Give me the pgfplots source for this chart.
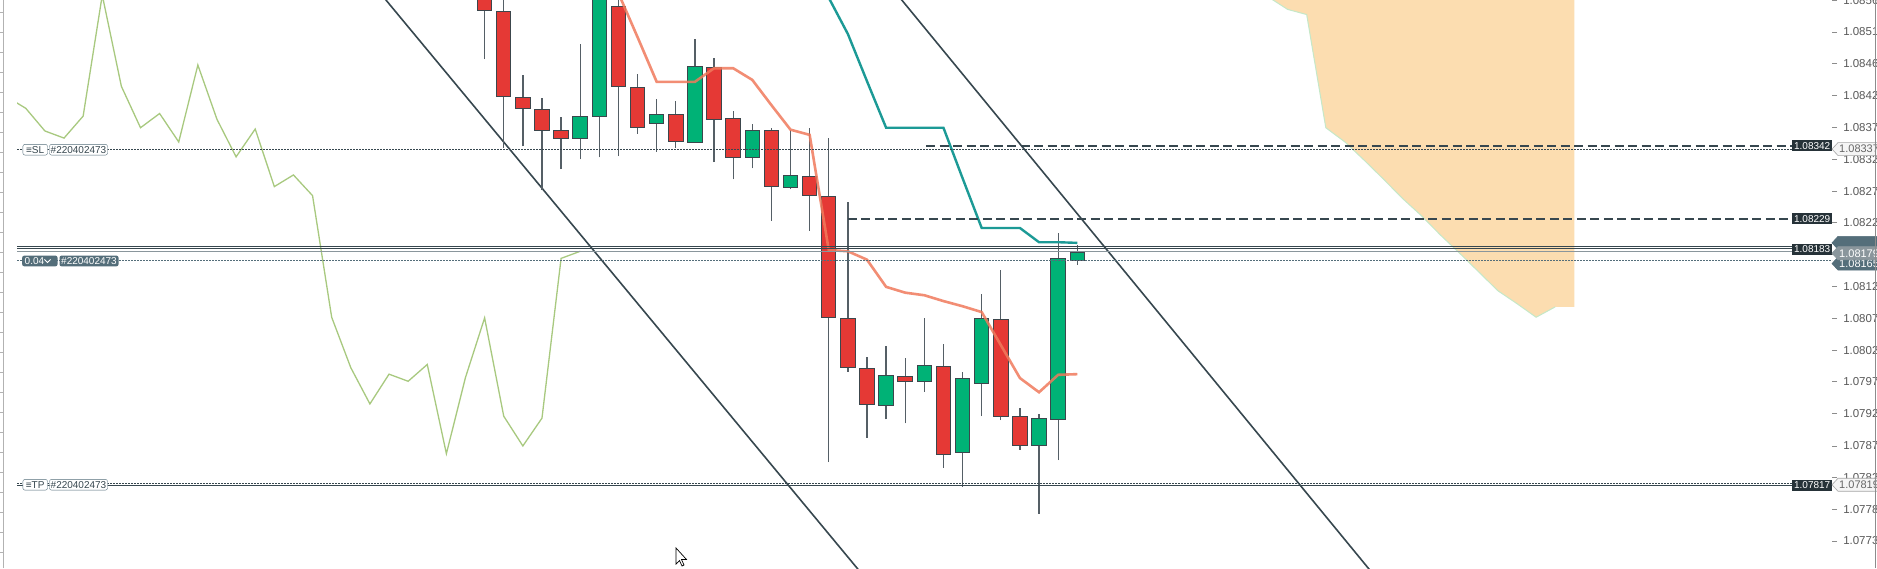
\documentclass[border=0pt]{standalone}
\usepackage{pgfplots}
\pgfplotsset{compat=1.18}
\usepackage{pgfplotstable}
\usepackage{fontspec}
\setmainfont{Liberation Sans}
\usetikzlibrary{calc}

\definecolor{cred}{RGB}{229,57,53}
\definecolor{cgreen}{RGB}{0,178,118}
\definecolor{cborder}{RGB}{60,70,76}
\definecolor{cwick}{RGB}{85,95,102}
\definecolor{ctenkan}{RGB}{240,122,92}
\definecolor{ckijun}{RGB}{28,154,150}
\definecolor{cchikou}{RGB}{168,201,127}
\definecolor{ccloud}{RGB}{252,221,176}
\definecolor{ccloudedge}{RGB}{197,232,200}
\definecolor{cslate}{RGB}{55,71,79}
\definecolor{cslate2}{RGB}{84,110,122}
\definecolor{cdark}{RGB}{38,50,56}
\definecolor{cgrayl}{RGB}{138,150,156}

% candle index, open, high, low, close
\pgfplotstableread{
i o h l c
0 1.08591 1.08614 1.08476 1.08551
1 1.08551 1.08583 1.08339 1.08418
2 1.08418 1.08452 1.08341 1.08400
3 1.08400 1.08416 1.08274 1.08365
4 1.08368 1.08387 1.08306 1.08354
5 1.08352 1.08500 1.08321 1.08388
6 1.08387 1.08598 1.08324 1.08575
7 1.08560 1.08580 1.08326 1.08434
8 1.08434 1.08453 1.08361 1.08370
9 1.08376 1.08414 1.08333 1.08392
10 1.08391 1.08411 1.08339 1.08348
11 1.08348 1.08507 1.08347 1.08467
12 1.08465 1.08478 1.08317 1.08383
13 1.08386 1.08396 1.08290 1.08325
14 1.08325 1.08376 1.08307 1.08368
15 1.08367 1.08370 1.08226 1.08279
16 1.08278 1.08367 1.08275 1.08297
17 1.08296 1.08369 1.08211 1.08265
18 1.08265 1.08354 1.07853 1.08077
19 1.08077 1.08255 1.07993 1.07999
20 1.07999 1.08016 1.07891 1.07943
21 1.07941 1.08033 1.07919 1.07989
22 1.07987 1.08014 1.07913 1.07978
23 1.07977 1.08076 1.07962 1.08004
24 1.08003 1.08035 1.07844 1.07866
25 1.07867 1.07992 1.07815 1.07984
26 1.07974 1.08113 1.07924 1.08076
27 1.08076 1.08150 1.07918 1.07924
28 1.07924 1.07937 1.07872 1.07878
29 1.07878 1.07927 1.07773 1.07921
30 1.07918 1.08208 1.07856 1.08168
31 1.08166 1.08189 1.08158 1.08179
}\candles

\newcommand{\plabel}[5]{%
  \path (#1 -| xA) coordinate (tmp);
  \filldraw[fill=#2, draw=#3, line width=0.6pt] (tmp) -- ++(6,6.5) -- ++(41,0) -- ++(0,-13) -- ++(-41,0) -- cycle;
  \node[anchor=west, text=#4, inner sep=0pt, font=\fontsize{11}{12}\selectfont] at ($(tmp)+(7,0)$) {#5};
}
\newcommand{\dlabel}[2]{%
  \node[anchor=west, fill=cdark, text=white, minimum width=40pt, minimum height=11pt, inner sep=0pt, font=\fontsize{10}{12}\selectfont] at (#1 -| xB) {#2};
}

\begin{document}
\begin{tikzpicture}[x=1pt,y=1pt]
\path[use as bounding box, clip] (0,0) rectangle (1877,568);
\fill[white] (0,0) rectangle (1877,568);
\coordinate (xA) at (1832,0);
\coordinate (xB) at (1792,0);
\begin{axis}[
  at={(17pt,0pt)}, anchor=south west,
  scale only axis, width=1815pt, height=568pt,
  xmin=-24.46, xmax=70.48,
  ymin=1.076893, ymax=1.085675,
  axis x line=none,
  axis y line*=right,
  y axis line style={draw=none},
  ytick={1.08567,1.08518,1.08469,1.08420,1.08370,1.08321,1.08272,1.08223,1.08174,1.08124,1.08075,1.08026,1.07977,1.07928,1.07878,1.07829,1.07780,1.07731},
  yticklabels={1.08567,1.08518,1.08469,1.08420,1.08370,1.08321,1.08272,1.08223,{},1.08124,1.08075,1.08026,1.07977,1.07928,1.07878,1.07829,1.07780,1.07731},
  tick align=outside, major tick length=5pt,
  ytick style={draw=black!45, line width=0.9pt},
  yticklabel style={font=\fontsize{11.5}{13}\selectfont, text=black!65, anchor=west, inner sep=0pt, xshift=6pt},
  clip=true,
  scaled y ticks=false,
]
% Kumo cloud
\addplot[fill=ccloud, draw=none, forget plot] coordinates {
 (41,1.08572) (42,1.08553) (43,1.08545) (44,1.08370) (45,1.08348) (46,1.08320)
 (47,1.08291) (48,1.08261) (49,1.08234) (50,1.08204) (51,1.08176) (52,1.08147)
 (53,1.08118) (54,1.08098) (55,1.08077) (56,1.08093) (57,1.08093) (57,1.0870) (41,1.0870)} -- cycle;
\addplot[ccloudedge, line width=1pt, mark=none] coordinates {
 (41,1.08572) (42,1.08553) (43,1.08545) (44,1.08370) (45,1.08348) (46,1.08320)
 (47,1.08291) (48,1.08261) (49,1.08234) (50,1.08204) (51,1.08176) (52,1.08147)
 (53,1.08118) (54,1.08098) (55,1.08077) (56,1.08093)};
% channel lines
\addplot[cslate, line width=1.6pt, mark=none] coordinates {(-7,1.08633) (21,1.07635)};
\addplot[cslate, line width=1.6pt, mark=none] coordinates {(20,1.08633) (48,1.07625)};
% Chikou span (close shifted back 26)
\addplot[cchikou, line width=1.3pt, mark=none] table[x expr=\thisrow{i}-26, y=c] {\candles};
% wicks
\addplot[draw=none, mark=none, error bars/.cd, y dir=plus, y explicit, error mark=none,
  error bar style={draw=cwick, line width=1.3pt}]
  table[x=i, y=l, y error expr=\thisrow{h}-\thisrow{l}] {\candles};
% body outline
\addplot[draw=none, mark=none, error bars/.cd, y dir=both, y explicit, error mark=none,
  error bar style={draw=cborder, line width=15.5pt}]
  table[x=i, y expr=(\thisrow{o}+\thisrow{c})/2, y error expr=abs(\thisrow{o}-\thisrow{c})/2] {\candles};
% red bodies
\addplot[draw=none, mark=none, restrict expr to domain={\thisrow{c}-\thisrow{o}}{-1:0},
  error bars/.cd, y dir=both, y explicit, error mark=none,
  error bar style={draw=cred, line width=13.5pt}]
  table[x=i, y expr=(\thisrow{o}+\thisrow{c})/2, y error expr=abs(\thisrow{o}-\thisrow{c})/2-0.0000155] {\candles};
% green bodies
\addplot[draw=none, mark=none, restrict expr to domain={\thisrow{c}-\thisrow{o}}{0:1},
  error bars/.cd, y dir=both, y explicit, error mark=none,
  error bar style={draw=cgreen, line width=13.5pt}]
  table[x=i, y expr=(\thisrow{o}+\thisrow{c})/2, y error expr=abs(\thisrow{o}-\thisrow{c})/2-0.0000155] {\candles};
% Tenkan-sen
\addplot[ctenkan, line width=2.6pt, opacity=0.85, mark=none] coordinates {
 (6,1.08660) (7,1.08578) (8,1.08510) (9,1.08441) (10,1.08441) (11,1.08441) (12,1.08462)
 (13,1.08462) (14,1.08444) (15,1.08405) (16,1.08367) (17,1.08359) (18,1.08181) (19,1.08179)
 (20,1.08166) (21,1.08124) (22,1.08115) (23,1.08111) (24,1.08102) (25,1.08094) (26,1.08085)
 (27,1.08034) (28,1.07983) (29,1.07961) (30,1.07988) (31,1.07989)};
% Kijun-sen
\addplot[ckijun, line width=2.4pt, mark=none] coordinates {
 (17,1.08660) (18,1.08571) (19,1.08515) (20,1.08442) (21,1.08370) (22,1.08370) (23,1.08370)
 (24,1.08370) (25,1.08292) (26,1.08215) (27,1.08215) (28,1.08215) (29,1.08193) (30,1.08193) (31,1.08192)};
% order lines
\addplot[cslate, line width=0.8pt, dash pattern=on 1.5pt off 1.5pt, mark=none] coordinates {(-24.46,1.08337) (70.48,1.08337)};
\addplot[cslate, line width=2pt, dash pattern=on 9pt off 4.5pt, mark=none] coordinates {(23.09,1.08342) (68.39,1.08342)};
\addplot[cslate, line width=2pt, dash pattern=on 9pt off 4.5pt, mark=none] coordinates {(19.0,1.08229) (68.39,1.08229)};
\addplot[cslate, line width=1pt, mark=none] coordinates {(-24.46,1.08187) (70.48,1.08187)};
\addplot[cslate, line width=1pt, mark=none] coordinates {(-24.46,1.08183) (70.48,1.08183)};
\addplot[cgrayl, line width=0.9pt, mark=none] coordinates {(-24.46,1.08178) (70.48,1.08178)};
\addplot[cslate2, line width=0.8pt, dash pattern=on 1.5pt off 1.5pt, mark=none] coordinates {(-24.46,1.08165) (70.48,1.08165)};
\addplot[cslate, line width=1.6pt, mark=none] coordinates {(-24.46,1.07817) (68.39,1.07817)};
\addplot[cslate, line width=0.8pt, dash pattern=on 1.5pt off 1.5pt, mark=none] coordinates {(-24.46,1.07820) (70.48,1.07820)};
% anchor coordinates for labels
\coordinate (p342) at (axis cs:0,1.08342);
\coordinate (p337) at (axis cs:0,1.08337);
\coordinate (p229) at (axis cs:0,1.08229);
\coordinate (p184) at (axis cs:0,1.08182);
\coordinate (p179) at (axis cs:0,1.08176);
\coordinate (p165) at (axis cs:0,1.08160);
\coordinate (p190) at (axis cs:0,1.08192);
\coordinate (p817) at (axis cs:0,1.07817);
\coordinate (p819) at (axis cs:0,1.07818);
\coordinate (pSL) at (axis cs:0,1.08336);
\coordinate (pQ) at (axis cs:0,1.08164);
\end{axis}

% left strip
\draw[black!30, line width=1pt] (3,0) -- (3,568);
\foreach \yy in {16,36,...,556} { \draw[black!30, line width=0.8pt] (0,\yy) -- (3,\yy); }

% left order labels
\node[anchor=west, draw=cslate2, fill=white, rounded corners=2pt, minimum width=24.6pt, minimum height=10.7pt, inner sep=0pt, text=cslate, font=\fontsize{10}{12}\selectfont] at (pSL -| {22.7,0}) {≡SL};
\node[anchor=west, draw=cslate2, fill=white, rounded corners=2pt, minimum width=58pt, minimum height=10.7pt, inner sep=0pt, text=cslate, font=\fontsize{10}{12}\selectfont] at (pSL -| {49.3,0}) {\#220402473};
\node[anchor=west, fill=cslate2, rounded corners=2pt, minimum width=35.3pt, minimum height=10.7pt, inner sep=0pt, text=white, font=\fontsize{10}{12}\selectfont] (q1) at (pQ -| {22,0}) {\hspace*{13pt}};
\node[anchor=west, text=white, inner sep=0pt, font=\fontsize{10}{12}\selectfont] at (pQ -| {24.5,0}) {0.04};
\draw[white, line width=0.8pt] ($(pQ -| {44.5,0})+(0,1.5)$) -- ++(3,-3) -- ++(3,3);
\node[anchor=west, fill=cslate2, rounded corners=2pt, minimum width=59pt, minimum height=10.7pt, inner sep=0pt, text=white, font=\fontsize{10}{12}\selectfont] at (pQ -| {59.3,0}) {\#220402473};
\node[anchor=west, draw=cslate2, fill=white, rounded corners=2pt, minimum width=24.6pt, minimum height=10.7pt, inner sep=0pt, text=cslate, font=\fontsize{10}{12}\selectfont] at (p819 -| {22.7,0}) {≡TP};
\node[anchor=west, draw=cslate2, fill=white, rounded corners=2pt, minimum width=58pt, minimum height=10.7pt, inner sep=0pt, text=cslate, font=\fontsize{10}{12}\selectfont] at (p819 -| {49.3,0}) {\#220402473};

% right price labels
\dlabel{p342}{1.08342}
\dlabel{p229}{1.08229}
\dlabel{p184}{1.08183}
\dlabel{p817}{1.07817}
\plabel{p337}{black!4}{black!35}{black!60}{1.08337}
\plabel{p190}{cslate2}{cslate2}{white}{}
\plabel{p165}{cslate2}{cslate2}{white}{1.08165}
\plabel{p179}{cgrayl}{cgrayl}{white}{1.08179}
\plabel{p819}{black!4}{black!35}{black!60}{1.07819}

% right border
\draw[black!45, line width=1.3pt] (1875.5,0) -- (1875.5,568);

% mouse cursor
\filldraw[fill=white, draw=black, line width=0.7pt] (676,20) -- (676,4) -- (679.5,7.5) -- (682,2) -- (684,3) -- (681.5,8.5) -- (686.5,8.5) -- cycle;
\end{tikzpicture}
\end{document}
